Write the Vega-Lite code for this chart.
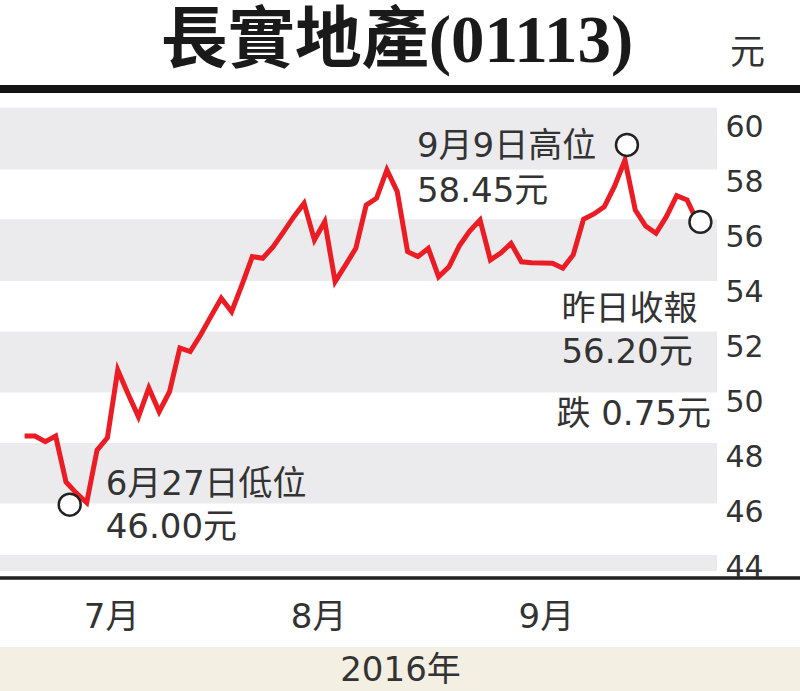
{
  "$schema": "https://vega.github.io/schema/vega-lite/v6.json",
  "width": 800,
  "height": 691,
  "autosize": "none",
  "padding": 0,
  "background": "white",
  "config": {"view": {"stroke": null}},
  "title": {
    "text": "長實地產(01113)",
    "anchor": "middle",
    "frame": "group",
    "orient": "top",
    "offset": -129,
    "baseline": "alphabetic",
    "dx": -3,
    "font": "Liberation Serif, Noto Sans CJK TC",
    "fontSize": 67,
    "fontWeight": "bold",
    "color": "#1a1a1a"
  },
  "datasets": {
    "prices": [
      {"date": "2016-06-17", "price": 48.42},
      {"date": "2016-06-20", "price": 48.42},
      {"date": "2016-06-21", "price": 48.22},
      {"date": "2016-06-22", "price": 48.42},
      {"date": "2016-06-23", "price": 46.75},
      {"date": "2016-06-24", "price": 46.35},
      {"date": "2016-06-27", "price": 46.00},
      {"date": "2016-06-28", "price": 47.91},
      {"date": "2016-06-29", "price": 48.36},
      {"date": "2016-06-30", "price": 50.82},
      {"date": "2016-07-04", "price": 49.95},
      {"date": "2016-07-05", "price": 49.12},
      {"date": "2016-07-06", "price": 50.17},
      {"date": "2016-07-07", "price": 49.31},
      {"date": "2016-07-08", "price": 50.03},
      {"date": "2016-07-11", "price": 51.62},
      {"date": "2016-07-12", "price": 51.49},
      {"date": "2016-07-13", "price": 52.09},
      {"date": "2016-07-14", "price": 52.77},
      {"date": "2016-07-15", "price": 53.43},
      {"date": "2016-07-18", "price": 52.94},
      {"date": "2016-07-19", "price": 53.91},
      {"date": "2016-07-20", "price": 54.94},
      {"date": "2016-07-21", "price": 54.88},
      {"date": "2016-07-22", "price": 55.29},
      {"date": "2016-07-25", "price": 55.83},
      {"date": "2016-07-26", "price": 56.38},
      {"date": "2016-07-27", "price": 56.88},
      {"date": "2016-07-28", "price": 55.54},
      {"date": "2016-07-29", "price": 56.21},
      {"date": "2016-08-01", "price": 54.03},
      {"date": "2016-08-03", "price": 54.63},
      {"date": "2016-08-04", "price": 55.24},
      {"date": "2016-08-05", "price": 56.81},
      {"date": "2016-08-08", "price": 57.06},
      {"date": "2016-08-09", "price": 58.09},
      {"date": "2016-08-10", "price": 57.30},
      {"date": "2016-08-11", "price": 55.12},
      {"date": "2016-08-12", "price": 54.94},
      {"date": "2016-08-15", "price": 55.24},
      {"date": "2016-08-16", "price": 54.21},
      {"date": "2016-08-17", "price": 54.57},
      {"date": "2016-08-18", "price": 55.33},
      {"date": "2016-08-19", "price": 55.87},
      {"date": "2016-08-22", "price": 56.27},
      {"date": "2016-08-23", "price": 54.82},
      {"date": "2016-08-24", "price": 55.07},
      {"date": "2016-08-25", "price": 55.42},
      {"date": "2016-08-26", "price": 54.75},
      {"date": "2016-08-29", "price": 54.72},
      {"date": "2016-08-30", "price": 54.71},
      {"date": "2016-08-31", "price": 54.70},
      {"date": "2016-09-01", "price": 54.52},
      {"date": "2016-09-02", "price": 55.00},
      {"date": "2016-09-05", "price": 56.30},
      {"date": "2016-09-06", "price": 56.49},
      {"date": "2016-09-07", "price": 56.75},
      {"date": "2016-09-08", "price": 57.50},
      {"date": "2016-09-09", "price": 58.45},
      {"date": "2016-09-12", "price": 56.63},
      {"date": "2016-09-13", "price": 56.05},
      {"date": "2016-09-14", "price": 55.79},
      {"date": "2016-09-15", "price": 56.39},
      {"date": "2016-09-19", "price": 57.15},
      {"date": "2016-09-20", "price": 57.00},
      {"date": "2016-09-21", "price": 56.20}
    ],
    "bands": [
      {"lo": 58.10, "hi": 60.35},
      {"lo": 54.05, "hi": 56.30},
      {"lo": 50.00, "hi": 52.22},
      {"lo": 45.97, "hi": 48.17},
      {"lo": 43.52, "hi": 44.10}
    ],
    "notes": [
      {"date": "2016-06-27", "price": 46.00, "kind": "low", "note": "6月27日低位\n46.00元"},
      {"date": "2016-09-09", "price": 58.45, "kind": "high", "note": "9月9日高位\n58.45元"},
      {"date": "2016-09-21", "price": 56.20, "kind": "last", "note": "昨日收報\n56.20元"},
      {"date": "2016-09-21", "price": 56.20, "kind": "change", "note": "跌 0.75元"}
    ]
  },
  "layer": [
    {
      "data": {"name": "bands"},
      "mark": {"type": "rect", "color": "#ebebed"},
      "encoding": {
        "x": {"value": 0},
        "x2": {"value": 717},
        "y": {"field": "lo", "type": "quantitative", "title": "元", "scale": {"domain": [39.161, 64.261], "nice": false, "zero": false}},
        "y2": {"field": "hi"}
      }
    },
    {
      "data": {"name": "bands"},
      "mark": {"type": "rule", "color": "#141414", "strokeWidth": 8},
      "encoding": {"y": {"datum": 61.03, "type": "quantitative", "title": "元"}}
    },
    {
      "data": {"name": "bands"},
      "mark": {"type": "rule", "color": "#222222", "strokeWidth": 2.5},
      "encoding": {"y": {"datum": 43.265, "type": "quantitative", "title": "元"}}
    },
    {
      "data": {"name": "bands"},
      "mark": {"type": "rect", "color": "#f3efe3"},
      "encoding": {
        "y": {"datum": 40.76, "type": "quantitative", "title": "元"},
        "y2": {"datum": 39.161}
      }
    },
    {
      "data": {"name": "prices"},
      "mark": {"type": "line", "color": "#ec1c24", "strokeWidth": 5, "strokeJoin": "miter"},
      "encoding": {
        "x": {
          "field": "date", "type": "ordinal",
          "scale": {"type": "point", "range": [24.6, 697.4], "padding": 0},
          "axis": {
            "orient": "bottom", "offset": -74, "zindex": 1,
            "values": ["2016-07-04", "2016-08-01", "2016-09-01"],
            "labelExpr": "toNumber(slice(datum.value, 5, 7)) + '月'",
            "labelAngle": 0, "labelOffset": -17, "labelPadding": 0,
            "labelBaseline": "middle", "labelAlign": "center",
            "labelFont": "DejaVu Sans, Noto Sans CJK TC", "labelFontSize": 34, "labelColor": "#333333",
            "ticks": false, "domain": false, "grid": false,
            "title": "2016年", "titleX": 400, "titleY": 53, "titleAlign": "center",
            "titleBaseline": "middle", "titleFont": "DejaVu Sans, Noto Sans CJK TC",
            "titleFontSize": 34, "titleFontWeight": "normal", "titleColor": "#333333"
          }
        },
        "y": {
          "field": "price", "type": "quantitative", "title": "元",
          "scale": {"domain": [39.161, 64.261], "nice": false, "zero": false},
          "axis": {
            "orient": "right", "offset": -75, "zindex": 1,
            "values": [44, 46, 48, 50, 52, 54, 56, 58, 60],
            "labelAlign": "left", "labelBaseline": "top", "labelPadding": 0, "labelOffset": -5,
            "labelFont": "DejaVu Sans", "labelFontSize": 30, "labelColor": "#333333",
            "ticks": false, "domain": false, "grid": false,
            "titleAngle": 0, "titleX": 22, "titleY": 52,
            "titleAlign": "center", "titleBaseline": "middle",
            "titleFont": "Noto Sans CJK TC", "titleFontSize": 35, "titleFontWeight": "normal", "titleColor": "#333333"
          }
        }
      }
    },
    {
      "data": {"name": "notes"},
      "transform": [{"filter": "datum.kind == 'low'"}],
      "mark": {"type": "point", "shape": "circle", "filled": true, "fill": "white", "stroke": "#222222", "strokeWidth": 2.5, "size": 480, "opacity": 1},
      "encoding": {
        "x": {"field": "date", "type": "ordinal"},
        "y": {"field": "price", "type": "quantitative", "title": "元"},
        "xOffset": {"value": -17},
        "yOffset": {"value": 2}
      }
    },
    {
      "data": {"name": "notes"},
      "transform": [{"filter": "datum.kind == 'high'"}],
      "mark": {"type": "point", "shape": "circle", "filled": true, "fill": "white", "stroke": "#222222", "strokeWidth": 2.5, "size": 480, "opacity": 1},
      "encoding": {
        "x": {"field": "date", "type": "ordinal"},
        "y": {"field": "price", "type": "quantitative", "title": "元"},
        "xOffset": {"value": 2},
        "yOffset": {"value": -15}
      }
    },
    {
      "data": {"name": "notes"},
      "transform": [{"filter": "datum.kind == 'last'"}],
      "mark": {"type": "point", "shape": "circle", "filled": true, "fill": "white", "stroke": "#222222", "strokeWidth": 2.5, "size": 480, "opacity": 1},
      "encoding": {
        "x": {"field": "date", "type": "ordinal"},
        "y": {"field": "price", "type": "quantitative", "title": "元"},
        "xOffset": {"value": 3}
      }
    },
    {
      "data": {"name": "notes"},
      "transform": [{"filter": "datum.kind == 'low'"}],
      "mark": {"type": "text", "align": "left", "baseline": "top", "dx": 19, "dy": -35, "lineBreak": "\n", "lineHeight": 43, "font": "DejaVu Sans, Noto Sans CJK TC", "fontSize": 34, "color": "#333333"},
      "encoding": {
        "x": {"field": "date", "type": "ordinal"},
        "y": {"field": "price", "type": "quantitative", "title": "元"},
        "text": {"field": "note"}
      }
    },
    {
      "data": {"name": "notes"},
      "transform": [{"filter": "datum.kind == 'high'"}],
      "mark": {"type": "text", "align": "left", "baseline": "top", "dx": -208, "dy": -30, "lineBreak": "\n", "lineHeight": 45, "font": "DejaVu Sans, Noto Sans CJK TC", "fontSize": 34, "color": "#333333"},
      "encoding": {
        "x": {"field": "date", "type": "ordinal"},
        "y": {"field": "price", "type": "quantitative", "title": "元"},
        "text": {"field": "note"}
      }
    },
    {
      "data": {"name": "notes"},
      "transform": [{"filter": "datum.kind == 'last'"}],
      "mark": {"type": "text", "align": "left", "baseline": "top", "dx": -136, "dy": 71, "lineBreak": "\n", "lineHeight": 43, "font": "DejaVu Sans, Noto Sans CJK TC", "fontSize": 34, "color": "#333333"},
      "encoding": {
        "x": {"field": "date", "type": "ordinal"},
        "y": {"field": "price", "type": "quantitative", "title": "元"},
        "text": {"field": "note"}
      }
    },
    {
      "data": {"name": "notes"},
      "transform": [{"filter": "datum.kind == 'change'"}],
      "mark": {"type": "text", "align": "left", "baseline": "top", "dx": -141, "dy": 176, "font": "DejaVu Sans, Noto Sans CJK TC", "fontSize": 34, "color": "#333333"},
      "encoding": {
        "x": {"field": "date", "type": "ordinal"},
        "y": {"field": "price", "type": "quantitative", "title": "元"},
        "text": {"field": "note"}
      }
    }
  ]
}
